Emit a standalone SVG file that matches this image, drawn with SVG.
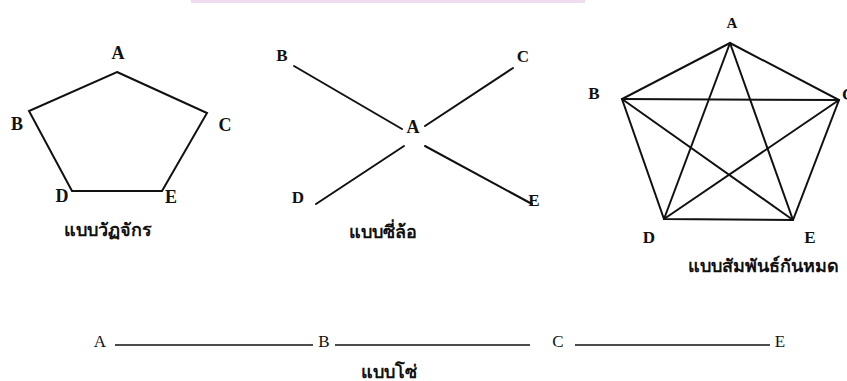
<svg xmlns="http://www.w3.org/2000/svg" width="847" height="381" viewBox="0 0 847 381">
<style>
.bg{fill:#ffffff}
.edge{stroke:#111;stroke-width:2;fill:none;stroke-linecap:round}
.chain{stroke:#111;stroke-width:1.6;fill:none}
.lbl{font-family:"Liberation Serif","DejaVu Serif",serif;font-weight:bold;font-size:18px;fill:#111;text-anchor:middle}
.lbl2{font-family:"Liberation Serif","DejaVu Serif",serif;font-size:17px;fill:#111;text-anchor:middle}
.title{font-family:"Liberation Serif","Noto Sans","DejaVu Sans",serif;font-weight:bold;font-size:18px;fill:#111;text-anchor:middle}
</style>
<rect class="bg" x="0" y="0" width="847" height="381"/>
<rect x="191" y="0" width="394" height="3" fill="#efdcef"/>
<g id="connectors">
  <polygon class="edge" points="117,72 207,113 162,191 72,191 29,111"/>
  <line class="edge" x1="294" y1="66" x2="402" y2="129"/>
  <line class="edge" x1="425" y1="126" x2="513" y2="68"/>
  <line class="edge" x1="404" y1="146" x2="316" y2="204"/>
  <line class="edge" x1="425" y1="146" x2="532" y2="204"/>
  <polygon class="edge" points="730,43 839,100 793,220 664,219 622,99"/>
  <line class="edge" x1="730" y1="43" x2="664" y2="219"/>
  <line class="edge" x1="730" y1="43" x2="793" y2="220"/>
  <line class="edge" x1="622" y1="99" x2="839" y2="100"/>
  <line class="edge" x1="622" y1="99" x2="793" y2="220"/>
  <line class="edge" x1="839" y1="100" x2="664" y2="219"/>
  <line class="chain" x1="115" y1="345" x2="313" y2="345"/>
  <line class="chain" x1="335" y1="345" x2="530" y2="345"/>
  <line class="chain" x1="575" y1="345" x2="770" y2="345"/>
</g>
<g id="cycle-A"><text class="lbl" x="118" y="59">A</text></g>
<g id="cycle-B"><text class="lbl" x="17" y="130">B</text></g>
<g id="cycle-C"><text class="lbl" x="225" y="131">C</text></g>
<g id="cycle-D"><text class="lbl" x="62" y="202">D</text></g>
<g id="cycle-E"><text class="lbl" x="171" y="203">E</text></g>
<g id="cycle-title"><text class="title" x="108" y="236">แบบวัฏจักร</text></g>

<g id="wheel-A"><text class="lbl" x="413" y="133">A</text></g>
<g id="wheel-B"><text class="lbl" x="282" y="61" style="font-size:17px">B</text></g>
<g id="wheel-C"><text class="lbl" x="523" y="62" style="font-size:17px">C</text></g>
<g id="wheel-D"><text class="lbl" x="298" y="203" style="font-size:17px">D</text></g>
<g id="wheel-E"><text class="lbl" x="534" y="206" style="font-size:17px">E</text></g>
<g id="wheel-title"><text class="title" x="383" y="238">แบบซี่ล้อ</text></g>

<g id="complete-A"><text class="lbl" x="732" y="28" style="font-size:15px">A</text></g>
<g id="complete-B"><text class="lbl" x="594" y="99" style="font-size:17px">B</text></g>
<g id="complete-C"><text class="lbl" x="842" y="100" style="text-anchor:start;font-size:17px">C</text></g>
<g id="complete-D"><text class="lbl" x="649" y="243" style="font-size:17px">D</text></g>
<g id="complete-E"><text class="lbl" x="810" y="243" style="font-size:17px">E</text></g>
<g id="complete-title"><text class="title" x="763" y="272">แบบสัมพันธ์กันหมด</text></g>

<g id="chain-A"><text class="lbl2" x="100" y="347">A</text></g>
<g id="chain-B"><text class="lbl2" x="324" y="347">B</text></g>
<g id="chain-C"><text class="lbl2" x="558" y="347">C</text></g>
<g id="chain-E"><text class="lbl2" x="780" y="347">E</text></g>
<g id="chain-title"><text class="title" x="389" y="378">แบบโซ่</text></g>
</svg>
